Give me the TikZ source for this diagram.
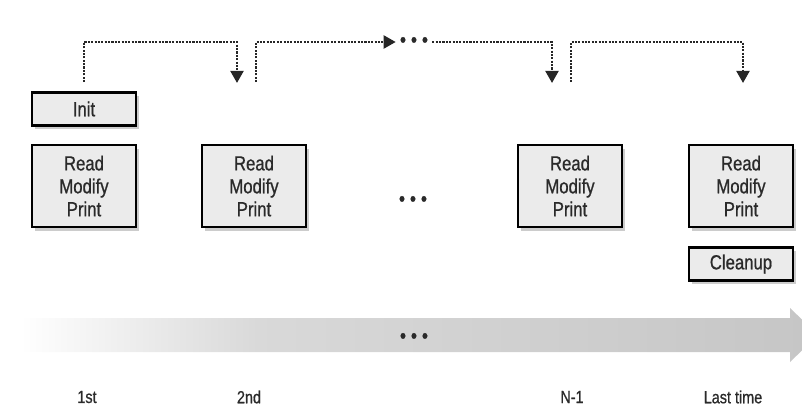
\documentclass[tikz,border=0pt]{standalone}
\usepackage{fontspec}
\setmainfont{Liberation Sans}[FakeStretch=0.82,FakeBold=0.8]
\usetikzlibrary{arrows.meta,positioning,shadows}
\definecolor{boxfill}{HTML}{EBEBEB}
\definecolor{inkgray}{HTML}{2A2A2A}
\pgfdeclarehorizontalshading{timeline}{100bp}{color(0bp)=(white); color(25bp)=(white); color(40bp)=(gray!30); color(75bp)=(gray!45); color(100bp)=(gray!45)}

\begin{document}
\begin{tikzpicture}[x=0.025cm,y=-0.025cm,
    font=\fontsize{14.5}{16.3}\selectfont,
    stage/.style={draw,line width=1.8pt,fill=boxfill,text=inkgray,align=center,
      minimum width=2.6cm,minimum height=2.05cm,
      drop shadow={opacity=0.4,shadow xshift=2pt,shadow yshift=-2.5pt}},
    extra/.style={stage,minimum height=0.825cm},
    loopline/.style={line width=1.8pt,dash pattern=on 1.5pt off 0.9pt,draw=black!85},
    loophead/.style={-{Triangle[width=0.32cm,length=0.3cm]}},
    dotsmark/.style={font=\fontsize{15}{15}\selectfont,text=inkgray,inner ysep=0pt,inner xsep=0.1cm},
    when/.style={font=\fontsize{12.5}{12.5}\selectfont,text=inkgray}]
  \useasboundingbox (0,0) rectangle (802,408);
  \begin{scope}
    \clip (0,0) rectangle (802,408);
    \path[shading=timeline] (20,318) -- (790,318) -- (790,308) -- (818,335)
      -- (790,362) -- (790,352) -- (20,352) -- cycle;
  \end{scope}
  \node (flowdots) [dotsmark] at (414,338) {•\kern3.5pt•\kern3.5pt•};

  \node (first) [stage] at (84,186) {Read\\Modify\\Print};
  \node (second) [stage] at (254,186) {Read\\Modify\\Print};
  \node (middots) [dotsmark] at (413,201) {•\kern3.5pt•\kern3.5pt•};
  \node (beforelast) [stage] at (570,186) {Read\\Modify\\Print};
  \node (last) [stage] at (741,186) {Read\\Modify\\Print};
  \node (init) [extra,above=0.425cm of first] {Init};
  \node (cleanup) [extra,below=0.45cm of last] {Cleanup};

  \coordinate (s1) at (84,82);
  \coordinate (e1) at (237,83);
  \coordinate (s2) at (256,82);
  \coordinate (e2) at (552,83);
  \coordinate (s3) at (571,82);
  \coordinate (e3) at (743,83);
  \node (topdots) [dotsmark] at (414,42) {•\kern3.5pt•\kern3.5pt•};
  \draw[loopline,loophead] (s1) -- (s1 |- topdots) -| (e1);
  \draw[loopline,loophead] (s2) |- (topdots.west);
  \draw[loopline,loophead] (topdots.east) -| (e2);
  \draw[loopline,loophead] (s3) -- (s3 |- topdots) -| (e3);

  \node (t1) [when] at (87,397) {1st};
  \node (t2) [when] at (249,397) {2nd};
  \node (tn) [when] at (572,397) {N-1};
  \node (tlast) [when] at (733,397) {Last time};
\end{tikzpicture}
\end{document}
